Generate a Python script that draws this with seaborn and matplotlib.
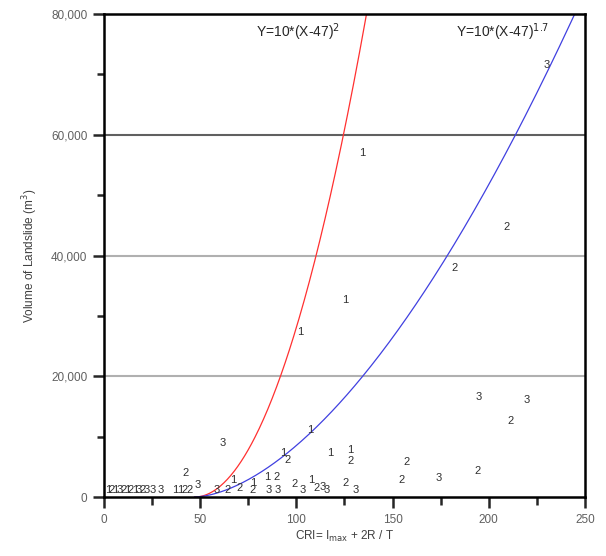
import numpy as np
import pandas as pd
import matplotlib
matplotlib.use("Agg")
import matplotlib.pyplot as plt
import seaborn as sns
from matplotlib.ticker import MultipleLocator, FuncFormatter

# data: CRI, volume, landslide class label
cri = [2, 4, 6, 8, 10, 12, 14, 16, 18, 20, 22, 25.5, 29.6, 37, 39.5, 42, 44.7,
       42.6, 48.9, 58.7, 61.9, 64, 67, 70.7, 77.4, 77, 84.7, 89.9, 85.8, 90.4,
       93, 95.6, 99.3, 101.9, 103.4, 107, 107.6, 110.7, 113.8, 115.9, 117.5,
       125.3, 125.8, 127.9, 128.4, 131, 134, 154.9, 157.5, 174.1, 182.4,
       194.4, 194.9, 209, 211.5, 219.9, 230.3]
volume = [1200, 1200, 1200, 1200, 1200, 1200, 1200, 1200, 1200, 1200, 1200,
          1160, 1160, 1160, 1160, 1160, 1160,
          3970, 1990, 1160, 8940, 1160, 2820, 1490, 2320, 1160, 3310, 3310,
          1160, 1160, 7290, 6130, 2150, 27330, 1160, 11100, 2820, 1490, 1660,
          1160, 7290, 32630, 2320, 7780, 5960, 1160, 56970, 2820, 5800, 3150,
          37930, 4300, 16560, 44700, 12590, 16060, 71550]
cls = ["1", "2", "1", "3", "2", "1", "2", "1", "3", "2", "3", "3", "3", "1", "1", "2", "2",
       "2", "3", "3", "3", "2", "1", "2", "1", "2", "1", "2",
       "3", "3", "1", "2", "2", "1", "3", "1", "1", "2", "3",
       "3", "1", "1", "2", "1", "2", "3", "1", "2", "2", "3",
       "2", "2", "3", "2", "2", "3", "3"]

df = pd.DataFrame({"CRI": cri, "Volume": volume, "Class": cls})

# the two threshold curves named in the chart
x_red = np.linspace(47, 47 + np.sqrt(8000), 200)
x_blue = np.linspace(47, 47 + 8000 ** (1 / 1.7), 300)
curves = pd.concat([
    pd.DataFrame({"x": x_red, "y": 10 * (x_red - 47) ** 2, "curve": "p2"}),
    pd.DataFrame({"x": x_blue, "y": 10 * (x_blue - 47) ** 1.7, "curve": "p17"}),
])

sns.set_style("white")
plt.rcParams["font.family"] = ["Liberation Sans", "DejaVu Sans"]

fig = plt.figure(figsize=(6.06, 5.56), dpi=100)
ax = fig.add_axes([0.1716, 0.1061, 0.7937, 0.8687])

# horizontal reference lines
ax.axhline(20000, color="#b0b0b0", lw=1.5, zorder=1)
ax.axhline(40000, color="#b0b0b0", lw=1.5, zorder=1)
ax.axhline(60000, color="#606060", lw=1.5, zorder=1)

sns.lineplot(data=curves, x="x", y="y", hue="curve",
             palette={"p2": "#ff3030", "p17": "#4040e0"},
             lw=0.9, legend=False, ax=ax, zorder=2)

for _, r in df.iterrows():
    ax.text(r["CRI"], r["Volume"], r["Class"], ha="center", va="center",
            fontsize=8, color="#303030", zorder=3)

ax.set_xlim(0, 250)
ax.set_ylim(0, 80000)
ax.xaxis.set_major_locator(MultipleLocator(50))
ax.xaxis.set_minor_locator(MultipleLocator(25))
ax.yaxis.set_major_locator(MultipleLocator(20000))
ax.yaxis.set_minor_locator(MultipleLocator(10000))
ax.yaxis.set_major_formatter(FuncFormatter(lambda v, p: f"{int(v):,}"))

ax.tick_params(axis="both", which="major", direction="out", length=8, width=1.8,
               labelsize=8.5, labelcolor="#606060", pad=4)
ax.tick_params(axis="x", which="minor", direction="out", length=6, width=1.8)
ax.tick_params(axis="y", which="minor", direction="out", length=5, width=1.8)
ax.tick_params(bottom=True, left=True, which="both")
for s in ax.spines.values():
    s.set_linewidth(1.8)
    s.set_color("black")

ax.set_xlabel(r"CRI= I$_{\rm max}$ + 2R / T", fontsize=8.5, color="#404040", labelpad=2)
ax.set_ylabel(r"Volume of Landslide (m$^{3}$)", fontsize=8.5, color="#404040", labelpad=8)

# curve labels
ax.text(101, 77000, r"Y=10*(X-47)$^{2}$", ha="center", va="center", fontsize=10)
ax.text(207, 77000, r"Y=10*(X-47)$^{1.7}$", ha="center", va="center", fontsize=10)

plt.savefig("out.png", dpi=100)
